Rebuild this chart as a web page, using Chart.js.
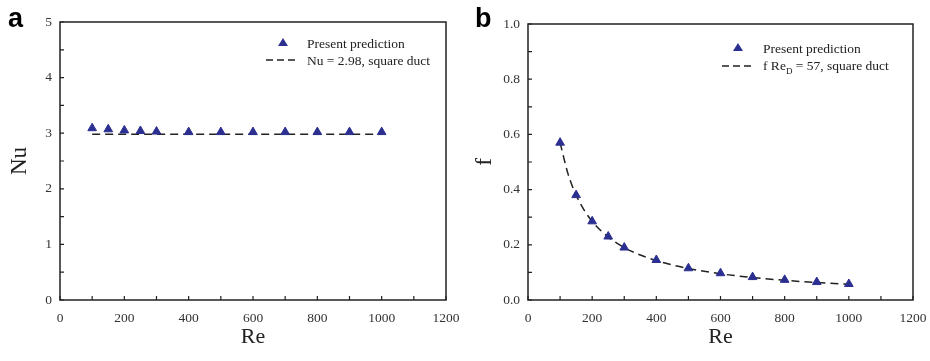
<!DOCTYPE html>
<html>
<head>
<meta charset="utf-8">
<script src="https://cdn.jsdelivr.net/npm/chart.js@4"></script>
<style>
  body { margin: 0; background: #fff; width: 930px; height: 361px; position: relative; overflow: hidden; }
  .panel { position: absolute; top: 0; width: 465px; height: 361px; }
  .letter { position: absolute; font-family: "Liberation Sans", Arial, sans-serif; font-weight: bold; font-size: 27px; line-height: 1; }
  .leg { position: absolute; font-family: "Liberation Serif", "Times New Roman", serif; font-size: 13.5px; color: #222; white-space: nowrap; line-height: 1; }
  .tri { position: absolute; width: 0; height: 0; border-left: 5px solid transparent; border-right: 5px solid transparent; border-bottom: 8px solid #2b2f90; }
  .dash { position: absolute; }
</style>
</head>
<body>
<div class="panel" style="left:0"><canvas id="chartA"></canvas></div>
<div class="panel" style="left:465px"><canvas id="chartB"></canvas></div>

<div class="letter" style="left:8px; top:5px">a</div>
<div class="letter" style="left:475px; top:5px">b</div>

<!-- legend a -->
<div class="tri" style="left:278px; top:38px"></div>
<div class="leg" style="left:307px; top:37px">Present prediction</div>
<svg class="dash" style="left:266px; top:58px" width="32" height="4"><line x1="0" y1="2" x2="32" y2="2" stroke="#222" stroke-width="1.5" stroke-dasharray="7,4"/></svg>
<div class="leg" style="left:307px; top:54px">Nu = 2.98, square duct</div>

<!-- legend b -->
<div class="tri" style="left:733px; top:43px"></div>
<div class="leg" style="left:763px; top:42px">Present prediction</div>
<svg class="dash" style="left:722px; top:64px" width="33" height="4"><line x1="0" y1="2" x2="33" y2="2" stroke="#222" stroke-width="1.5" stroke-dasharray="7,4"/></svg>
<div class="leg" style="left:763px; top:59px">f Re<sub style="font-size:9px">D</sub> = 57, square duct</div>

<script>
// Re values where the simulation was run
const reValues = [100, 150, 200, 250, 300, 400, 500, 600, 700, 800, 900, 1000];

// panel a: Nusselt number
const nuPredicted = [3.09, 3.07, 3.05, 3.04, 3.03, 3.02, 3.02, 3.02, 3.02, 3.02, 3.02, 3.02];
const nuRefRe = [100, 1000];
const nuRef = [2.98, 2.98];

// panel b: friction factor
const fPredicted = [0.57, 0.38, 0.285, 0.23, 0.19, 0.145, 0.115, 0.097, 0.083, 0.073, 0.065, 0.058];
const fRefRe = [100, 125, 150, 175, 200, 250, 300, 350, 400, 500, 600, 700, 800, 900, 1000];
const fRef = [0.57, 0.456, 0.38, 0.326, 0.285, 0.228, 0.19, 0.163, 0.1425, 0.114, 0.095, 0.0814, 0.0713, 0.0633, 0.057];

const serif = '"Liberation Serif", "Times New Roman", serif';
const markerColor = '#2b2f90';

// box around the plot area plus inward ticks
const framePlugin = {
    id: 'frame',
    afterDraw(chart) {
        const { ctx, chartArea: a, scales } = chart;
        ctx.save();
        ctx.strokeStyle = '#222';
        ctx.lineWidth = 1.5;
        ctx.strokeRect(a.left, a.top, a.width, a.height);
        ctx.lineWidth = 1.2;
        ctx.beginPath();
        scales.x.ticks.forEach(t => {
            const px = scales.x.getPixelForValue(t.value);
            ctx.moveTo(px, a.bottom);
            ctx.lineTo(px, a.bottom - 4);
        });
        scales.y.ticks.forEach(t => {
            const py = scales.y.getPixelForValue(t.value);
            ctx.moveTo(a.left, py);
            ctx.lineTo(a.left + 4, py);
        });
        ctx.stroke();
        ctx.restore();
    }
};

function makeChart(id, opts) {
    const ctx = document.getElementById(id).getContext('2d');
    return new Chart(ctx, {
        type: 'scatter',
        data: {
            datasets: [{
                label: 'reference',
                data: opts.refX.map((x, i) => ({ x: x, y: opts.refY[i] })),
                showLine: true,
                borderColor: '#222',
                borderWidth: 1.5,
                borderDash: [8, 5],
                pointRadius: 0,
                cubicInterpolationMode: 'monotone',
                order: 2
            }, {
                label: 'Present prediction',
                data: reValues.map((x, i) => ({ x: x, y: opts.pred[i] })),
                pointStyle: 'triangle',
                pointRadius: 5,
                backgroundColor: markerColor,
                borderColor: markerColor,
                borderWidth: 1,
                order: 1
            }]
        },
        options: {
            responsive: false,
            animation: false,
            layout: { padding: { top: opts.top, right: opts.right, left: 0, bottom: 0 } },
            plugins: { legend: { display: false }, tooltip: { enabled: false } },
            scales: {
                x: {
                    type: 'linear', min: 0, max: 1200,
                    grid: { display: false, drawTicks: false },
                    border: { display: false },
                    ticks: {
                        stepSize: 100, autoSkip: false, maxRotation: 0, padding: 10,
                        color: '#333', font: { family: serif, size: 13.5 },
                        callback: v => (v % 200 === 0 ? v : '')
                    },
                    title: { display: true, text: 'Re', color: '#222', font: { family: serif, size: 22 }, padding: { top: 0, bottom: 11 } },
                    afterFit: s => { s.height = 61; s.paddingLeft = 0; s.paddingRight = 0; }
                },
                y: {
                    type: 'linear', min: 0, max: opts.yMax,
                    grid: { display: false, drawTicks: false },
                    border: { display: false },
                    ticks: {
                        stepSize: opts.yStep, autoSkip: false, padding: 8,
                        color: '#333', font: { family: serif, size: 13.5 },
                        callback: opts.yLabel
                    },
                    title: { display: true, text: opts.yTitle, color: '#222', font: { family: serif, size: 23 }, padding: { top: 6, bottom: 0 } },
                    afterFit: s => { s.width = opts.yWidth; s.paddingTop = 0; s.paddingBottom = 0; }
                }
            }
        },
        plugins: [framePlugin]
    });
}

const cA = document.getElementById('chartA'); cA.width = 465; cA.height = 361;
const cB = document.getElementById('chartB'); cB.width = 465; cB.height = 361;

makeChart('chartA', {
    refX: nuRefRe, refY: nuRef, pred: nuPredicted,
    yMax: 5, yStep: 0.5, yTitle: 'Nu', yWidth: 60, top: 22, right: 19,
    yLabel: v => (Number.isInteger(v) ? v : '')
});

makeChart('chartB', {
    refX: fRefRe, refY: fRef, pred: fPredicted,
    yMax: 1.0, yStep: 0.1, yTitle: 'f', yWidth: 63, top: 24, right: 17,
    yLabel: v => {
        const k = Math.round(v * 10);
        return k % 2 === 0 ? (k / 10).toFixed(1) : '';
    }
});
</script>
</body>
</html>
